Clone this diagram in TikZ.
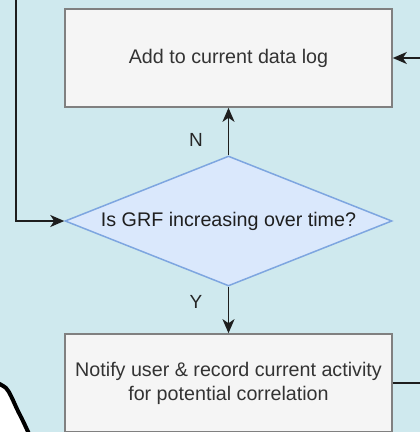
\documentclass[tikz,border=0pt]{standalone}
\usepackage{fontspec}
\setmainfont{Liberation Sans}
\usetikzlibrary{shapes.geometric,arrows.meta}
\definecolor{bgc}{HTML}{CFE9EE}
\definecolor{boxfill}{HTML}{F5F5F5}
\definecolor{boxline}{HTML}{808080}
\definecolor{boxtext}{HTML}{333333}
\definecolor{decfill}{HTML}{DAE8FC}
\definecolor{decline}{HTML}{7EA6E0}
\definecolor{wire}{HTML}{1E1E1E}
\begin{document}
\begin{tikzpicture}[x=1pt,y=-1pt,
  procbox/.style={draw=boxline,line width=1.6pt,fill=boxfill,text=boxtext,
    minimum width=327pt,minimum height=98pt,inner sep=0pt,align=center,
    font=\fontsize{19.7}{24}\selectfont},
  decision/.style={diamond,draw=decline,line width=1.5pt,fill=decfill,
    shape aspect=2.5,minimum width=327pt,minimum height=130pt,inner sep=0pt,
    text=black!88,font=\fontsize{19.7}{24}\selectfont},
  flow/.style={draw=wire,line width=1.8pt,-{Stealth[length=14pt,width=12pt,inset=4pt]}},
  plain/.style={draw=wire,line width=1.8pt},
  branch/.style={text=black!85,font=\fontsize{19}{22}\selectfont,inner sep=0pt}]
  \useasboundingbox (0,0) rectangle (420,432);
  \clip (0,0) rectangle (420,432);
  \fill[bgc] (0,0) rectangle (420,432);

  % process boxes and the decision
  \node[procbox] (log) at (228.5,58) {Add to current data log};
  \node[decision] (grf) at (228.5,221) {Is GRF increasing over time?};
  \node[procbox] (notify) at (228.5,383)
    {Notify user \& record current activity\\for potential correlation};

  % branch labels
  \node[branch] (lblN) at (196,140) {N};
  \node[branch] (lblY) at (196,302) {Y};

  % loose ends of connectors leaving the view
  \coordinate (inTop) at (16,-5);
  \coordinate (inRight) at (425,58);
  \coordinate (outRight) at (425,383);

  % connectors
  \draw[flow] (inTop) |- (grf.west);
  \draw[flow] (inRight) -- (log.east);
  \draw[flow] (grf.north) -- (log.south);
  \draw[flow] (grf.south) -- (notify.north);
  \draw[plain] (notify.east) -- (outRight);

  % outline of a neighbouring shape at the lower left
  \fill[white] plot[smooth] coordinates {(-4,382) (6,388) (11,396) (17,409) (23,421) (30,436)}
    -- (-4,436) -- cycle;
  \draw[black,line width=4pt] plot[smooth] coordinates {(-4,382) (6,388) (11,396) (17,409) (23,421) (30,436)};
\end{tikzpicture}
\end{document}
